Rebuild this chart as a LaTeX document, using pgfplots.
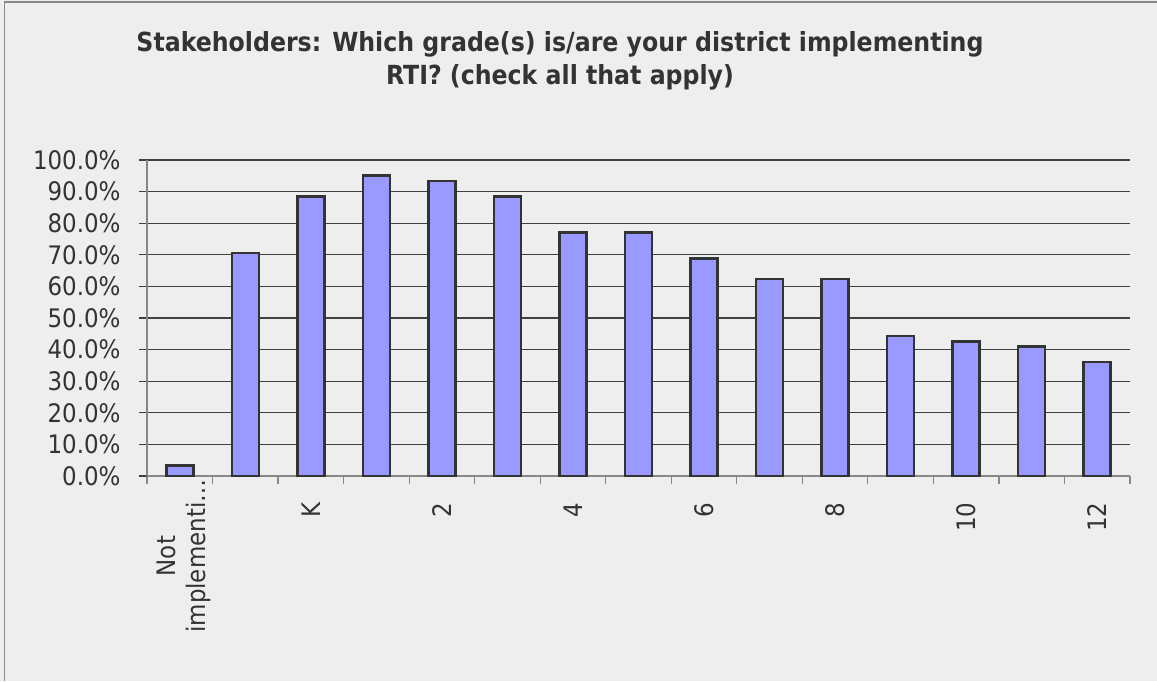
\documentclass[border=0pt]{standalone}
\usepackage{pgfplots}
\pgfplotsset{compat=1.18}
\usepackage{fontspec}
\setmainfont{DejaVu Sans Condensed}
\definecolor{bg}{HTML}{EEEEEE}
\definecolor{barfill}{HTML}{9999FF}
\definecolor{baredge}{HTML}{333333}
\definecolor{gridc}{HTML}{404040}
\definecolor{axisc}{HTML}{888888}
\definecolor{txt}{HTML}{333333}
\begin{document}
\begin{tikzpicture}[x=1pt,y=1pt]
\useasboundingbox (0,0) rectangle (1157,681);
\fill[bg] (0,0) rectangle (1157,681);
\draw[axisc, line width=1.5pt] (4.5,0) -- (4.5,679) -- (1157,679);
\node[font=\bfseries\fontsize{26.3}{33}\selectfont, text=txt, align=center] at (560,620) {Stakeholders: Which grade(s) is/are your district implementing\\RTI? (check all that apply)};
\begin{axis}[at={(147pt,205pt)}, anchor=south west, scale only axis,
  width=983pt, height=316pt, clip=false,
  xmin=-0.5, xmax=14.5, ymin=0, ymax=100,
  axis x line=bottom, axis y line=left,
  axis line style={axisc, line width=1.5pt, -},
  tick align=outside, major tick length=8pt, minor tick length=8pt,
  xtick={0,2,...,14},
  xticklabels={{},K,2,4,6,8,10,12},
  minor xtick={-0.5,0.5,...,14.5},
  major x tick style={draw=none},
  minor x tick style={axisc, line width=1.2pt},
  ytick={0,10,...,100},
  yticklabels={0.0\%,10.0\%,20.0\%,30.0\%,40.0\%,50.0\%,60.0\%,70.0\%,80.0\%,90.0\%,100.0\%},
  ytick style={gridc, line width=1.2pt},
  ymajorgrids, major grid style={gridc, line width=1.2pt},
  tick label style={font=\fontsize{25.5}{28}\selectfont, text=txt},
  xticklabel style={rotate=90, anchor=east, xshift=-15pt},
  yticklabel style={xshift=-15pt},
  ybar, bar width=27pt,
]
\addplot[fill=barfill, draw=baredge, line width=2.5pt] coordinates {
(0,3.3) (1,70.5) (2,88.5) (3,95.1) (4,93.4) (5,88.5) (6,77.0) (7,77.0)
(8,68.9) (9,62.3) (10,62.3) (11,44.3) (12,42.6) (13,41.0) (14,36.1)};
\node[rotate=90, anchor=east, align=center, font=\fontsize{25.5}{30}\selectfont, text=txt] at (axis cs:0,0) [yshift=-4pt] {Not\\implementi…};
\end{axis}
\end{tikzpicture}
\end{document}
